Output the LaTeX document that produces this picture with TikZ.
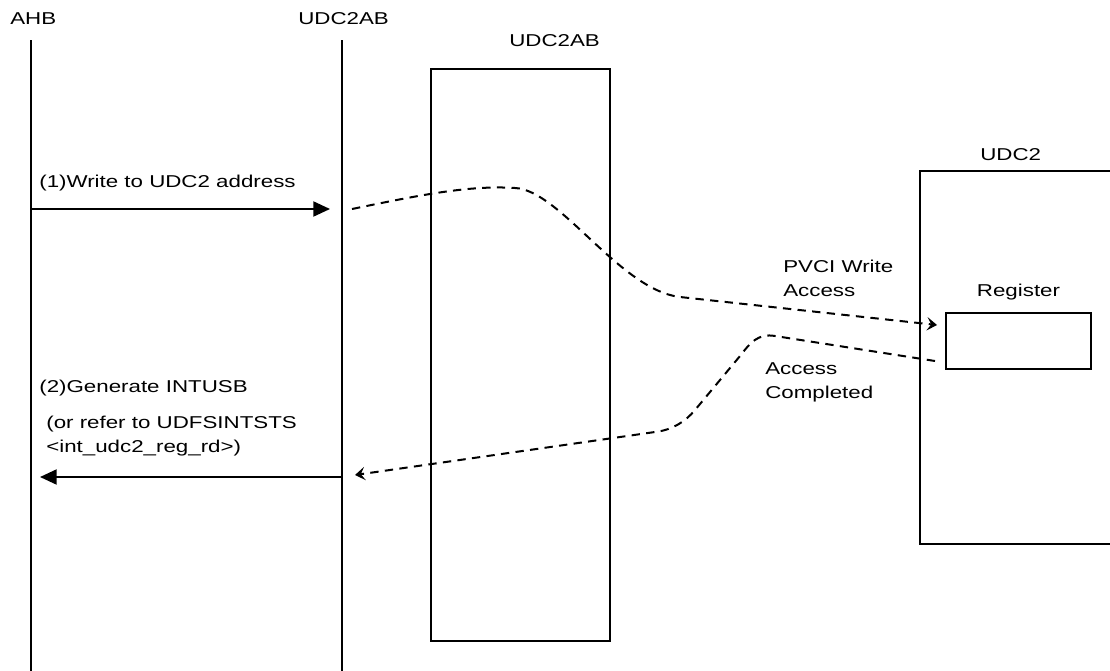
\documentclass[tikz,border=0pt]{standalone}
\usepackage{fontspec}
\setmainfont{Liberation Sans}[FakeStretch=1.3]
\usetikzlibrary{arrows.meta,positioning}

\begin{document}
\begin{tikzpicture}[
x=0.6pt,y=-0.6pt,
font=\fontsize{10.3pt}{14.4pt}\selectfont,
box/.style={draw,line width=1.2pt,inner sep=0pt,anchor=north west},
lbl/.style={inner sep=0pt,anchor=base west,align=left},
life/.style={line width=1.2pt},
msg/.style={-{Triangle[length=10pt,width=9pt]},line width=1.2pt},
acc/.style={-{Stealth[length=6pt,width=8pt,inset=2.5pt]},line width=1.2pt,dash pattern=on 5pt off 3.8pt}
]
\useasboundingbox (0,0) rectangle (1110,671);
\clip (0,0) rectangle (1110,671);
% lifelines
\node[lbl] (ahbname) at (10,25) {AHB};
\node[lbl] (abname) at (298,25) {UDC2AB};
\coordinate (ahbtop) at (31,40);
\coordinate (ahbbot) at (31,680);
\coordinate (abtop) at (342,40);
\coordinate (abbot) at (342,680);
\draw[life] (ahbtop) -- (ahbbot);
\draw[life] (abtop) -- (abbot);
% blocks
\node[box,minimum width=107.4pt,minimum height=343.2pt] (ab) at (430,68) {};
\node[lbl] (abtitle) at (509,46) {UDC2AB};
\node[box,minimum width=150pt,minimum height=223.8pt] (udc) at (919,170) {};
\node[lbl] (udctitle) at (980,160) {UDC2};
\node[box,minimum width=87pt,minimum height=33.6pt] (reg) at (945,312) {};
\node[inner sep=0pt,above=7pt of reg] (regname) {Register};
% messages
\coordinate (wrfrom) at (31,209);
\coordinate (wrto) at (330,209);
\draw[msg] (wrfrom) -- (wrto);
\node[lbl] (wrlbl) at (39,187) {(1)Write to UDC2 address};
\coordinate (intfrom) at (342,477);
\coordinate (intto) at (40,477);
\draw[msg] (intfrom) -- (intto);
\node[lbl] (intlbl) at (39,392) {(2)Generate INTUSB};
\node[lbl] (intnote) at (46,452) {(or refer to UDFSINTSTS\\<int\_udc2\_reg\_rd>)};
% PVCI accesses
\coordinate (wrstart) at (352,209);
\coordinate (regin) at (937,325);
\coordinate (regout) at (935,361);
\coordinate (intstart) at (355,475);
\draw[acc] (wrstart) .. controls (420,195) and (470,185) .. (515,188)
  .. controls (560,190) and (620,290) .. (680,297) -- (regin);
\draw[acc] (regout) -- (775,336) .. controls (758,333) and (750,343) .. (740,356)
  -- (695,410) .. controls (685,422) and (672,430) .. (655,432) -- (intstart);
\node[lbl] (pvcilbl) at (783,296) {PVCI Write\\Access};
\node[lbl] (donelbl) at (765,398) {Access\\Completed};
\end{tikzpicture}
\end{document}
